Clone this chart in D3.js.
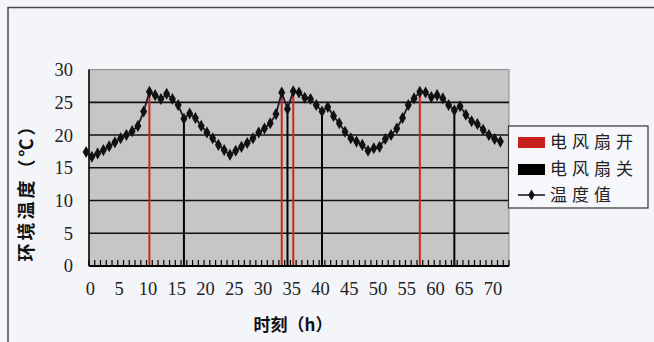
<!DOCTYPE html>
<html><head><meta charset="utf-8">
<script src="https://cdn.jsdelivr.net/npm/d3@7"></script>
<style>
html,body{margin:0;padding:0;background:#f4f5f9;}
svg{display:block;}
</style></head>
<body>
<svg id="chart" width="654" height="342"></svg>
<script>
// ---- data ----
const hours = d3.range(-1, 72);
const temps = [17.4,
  16.7,17.2,17.7,18.3,18.9,19.5,20.0,20.6,21.4,23.6,
  26.6,26.1,25.5,26.3,25.5,24.6,22.5,23.3,22.6,21.4,
  20.4,19.5,18.5,17.7,17.0,17.6,18.2,18.8,19.5,20.4,
  21.0,21.8,23.2,26.5,24.0,26.7,26.5,25.7,25.5,24.6,
  23.6,24.3,22.9,21.8,20.5,19.5,19.0,18.5,17.6,18.0,
  18.2,19.4,20.0,21.0,22.6,24.6,25.6,26.6,26.5,25.8,
  26.1,25.6,24.6,23.8,24.4,23.1,22.1,21.7,20.8,20.0,
  19.4,19.0];
const fanOnHours = [10, 33, 35, 57];
const fanOffHours = [16, 34, 40, 63];
const xTickLabels = d3.range(0, 71, 5);
const yTickLabels = [0, 5, 10, 15, 20, 25, 30];
const legendLabels = ["电风扇开", "电风扇关", "温度值"];
const yTitle = "环境温度（℃）";
const xTitle = "时刻（h）";

const data = hours.map((h, i) => ({h, v: temps[i]}));
const tempAt = h => temps[hours.indexOf(h)];

const svg = d3.select("#chart");
const L = 89, R = 509, T = 69.6, B = 266;
const x = d3.scaleLinear().domain([-0.5, 72.5]).range([L, R]);
const y = d3.scaleLinear().domain([0, 30]).range([B, T]);

// outer frame
svg.append("path").attr("d", `M8,344 L8,7.5 L660,7.5`)
  .attr("fill", "none").attr("stroke", "#4a4a4a").attr("stroke-width", 1.5);

// plot background
svg.append("rect").attr("x", L).attr("y", T).attr("width", R - L).attr("height", B - T)
  .attr("fill", "#c6c6c6").attr("stroke", "#8a8a8a").attr("stroke-width", 1);

// gridlines
svg.append("g").selectAll("line").data(yTickLabels.filter(v => v > 0 && v < 30)).join("line")
  .attr("x1", L).attr("x2", R).attr("y1", d => y(d)).attr("y2", d => y(d))
  .attr("stroke", "#111").attr("stroke-width", 1.6);

// fan lines
const fanG = svg.append("g");
fanG.selectAll("line.on").data(fanOnHours).join("line").attr("class", "on")
  .attr("x1", d => x(d)).attr("x2", d => x(d)).attr("y1", y(0)).attr("y2", d => y(tempAt(d)))
  .attr("stroke", "#c8281e").attr("stroke-width", 2);
fanG.selectAll("line.off").data(fanOffHours).join("line").attr("class", "off")
  .attr("x1", d => x(d)).attr("x2", d => x(d)).attr("y1", y(0)).attr("y2", d => y(tempAt(d)))
  .attr("stroke", "#000").attr("stroke-width", 2);

// axes lines
svg.append("line").attr("x1", L).attr("x2", L).attr("y1", T).attr("y2", B)
  .attr("stroke", "#000").attr("stroke-width", 1.5);
svg.append("line").attr("x1", L).attr("x2", R).attr("y1", B).attr("y2", B)
  .attr("stroke", "#000").attr("stroke-width", 1.8);

// x minor ticks between categories (pointing up)
svg.append("g").selectAll("line").data(d3.range(-0.5, 72.6, 1)).join("line")
  .attr("x1", d => x(d)).attr("x2", d => x(d)).attr("y1", B).attr("y2", B - 6)
  .attr("stroke", "#000").attr("stroke-width", 1.2);

// temperature line
svg.append("path").datum(data)
  .attr("d", d3.line().x(d => x(d.h)).y(d => y(d.v)))
  .attr("fill", "none").attr("stroke", "#1b1b2e").attr("stroke-width", 1.8);
svg.append("g").selectAll("path").data(data).join("path")
  .attr("transform", d => `translate(${x(d.h)},${y(d.v)})`)
  .attr("d", d3.symbol(d3.symbolDiamond, 42))
  .attr("fill", "#111");

// tick labels
svg.append("g").selectAll("text").data(yTickLabels).join("text")
  .attr("x", 73).attr("y", d => y(d)).attr("dy", "0.35em")
  .attr("text-anchor", "end")
  .attr("font-family", "'Liberation Serif', 'DejaVu Serif', serif").attr("font-size", 18.5)
  .attr("fill", "#222").text(d => d);
svg.append("g").selectAll("text").data(xTickLabels).join("text")
  .attr("x", d => x(d) - 1.5).attr("y", 289).attr("dy", "0.35em")
  .attr("text-anchor", "middle")
  .attr("font-family", "'Liberation Serif', 'DejaVu Serif', serif").attr("font-size", 18.5)
  .attr("fill", "#222").text(d => d);

// axis titles
svg.append("text").attr("transform", "translate(33,188) rotate(-90)")
  .attr("text-anchor", "middle")
  .attr("font-family", "'Noto Sans CJK SC', sans-serif").attr("font-weight", "bold")
  .attr("font-size", 18).attr("letter-spacing", 3).attr("fill", "#111").text(yTitle);
svg.append("text").attr("x", 293).attr("y", 325).attr("dy", "0.35em")
  .attr("text-anchor", "middle")
  .attr("font-family", "'Noto Sans CJK SC', sans-serif").attr("font-weight", "bold")
  .attr("font-size", 17).attr("fill", "#111").text(xTitle);

// legend
const lg = svg.append("g");
lg.append("rect").attr("x", 508.5).attr("y", 126).attr("width", 139.5).attr("height", 82)
  .attr("fill", "#f6f7fb").attr("stroke", "#333").attr("stroke-width", 1.2);
const rows = [126 + 16.5, 126 + 43.5, 126 + 69];
lg.append("rect").attr("x", 518).attr("y", rows[0] - 5.5).attr("width", 27).attr("height", 11).attr("fill", "#c8201a");
lg.append("rect").attr("x", 518).attr("y", rows[1] - 5.5).attr("width", 27).attr("height", 11).attr("fill", "#000");
lg.append("line").attr("x1", 518).attr("x2", 545).attr("y1", rows[2]).attr("y2", rows[2])
  .attr("stroke", "#1b1b2e").attr("stroke-width", 1.6);
lg.append("path").attr("transform", `translate(531.5,${rows[2]})`)
  .attr("d", d3.symbol(d3.symbolDiamond, 36)).attr("fill", "#111");
lg.selectAll("text").data(legendLabels).join("text")
  .attr("x", 550).attr("y", (d, i) => rows[i]).attr("dy", "0.35em")
  .attr("font-family", "'Noto Sans CJK SC', sans-serif").attr("font-size", 17)
  .attr("letter-spacing", 5).attr("fill", "#222").text(d => d);
</script>
</body></html>
